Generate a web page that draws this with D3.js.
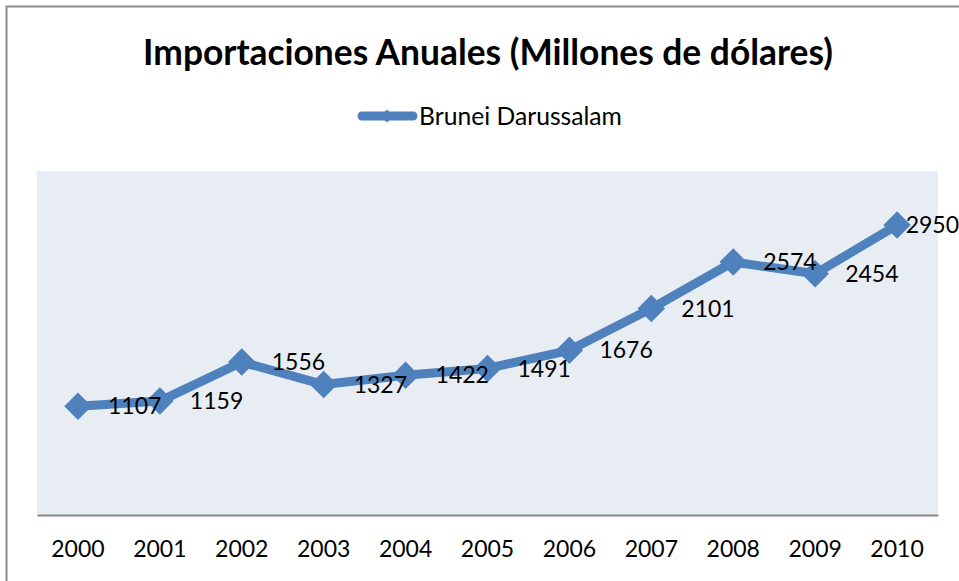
<!DOCTYPE html>
<html>
<head>
<meta charset="utf-8">
<script src="https://cdn.jsdelivr.net/npm/d3@7/dist/d3.min.js"></script>
<style>
  html, body { margin: 0; padding: 0; background: #fff; }
  svg { display: block; font-family: Lato, "Open Sans", sans-serif; }
</style>
</head>
<body>
<svg id="chart" width="959" height="581"></svg>
<script>
const years = ["2000","2001","2002","2003","2004","2005","2006","2007","2008","2009","2010"];
const imports = [1107, 1159, 1556, 1327, 1422, 1491, 1676, 2101, 2574, 2454, 2950];
const seriesName = "Brunei Darussalam";
const titleText = "Importaciones Anuales (Millones de dólares)";
const yDomain = [0, 3500];

const W = 959, H = 581;
const svg = d3.select("#chart");
const plot = { left: 37, right: 938, top: 171, bottom: 515 };
const color = "#4F81BD";

function fitSize(sel, base, target) {
  sel.attr("font-size", base);
  const w = sel.node().getComputedTextLength();
  sel.attr("font-size", base * target / w);
}

// chart border
svg.append("rect").attr("x", 6.5).attr("y", 6.5).attr("width", W + 20).attr("height", H + 20)
  .attr("fill", "#fff").attr("stroke", "#8c8c8c").attr("stroke-width", 2);

// plot background
svg.append("rect").attr("x", plot.left).attr("y", plot.top)
  .attr("width", plot.right - plot.left).attr("height", plot.bottom - plot.top)
  .attr("fill", "#E8EDF4");

const x = d3.scaleBand().domain(years).range([plot.left, plot.right]);
const y = d3.scaleLinear().domain(yDomain).range([plot.bottom, plot.top]);

// x axis
const xAxis = svg.append("g").attr("transform", `translate(0,${plot.bottom})`)
  .call(d3.axisBottom(x).tickSize(0).tickPadding(26));
xAxis.select(".domain").attr("stroke", "#868686").attr("stroke-width", 2);
xAxis.selectAll("text").attr("font-size", 23).attr("fill", "#000")
  .attr("font-family", "Lato, 'Open Sans', sans-serif");

// title
const title = svg.append("text").attr("x", 488).attr("y", 65)
  .attr("text-anchor", "middle").attr("font-weight", "bold")
  .attr("fill", "#000").text(titleText);
fitSize(title, 30, 690);

// legend
const lg = svg.append("g");
lg.append("line").attr("x1", 362).attr("x2", 413).attr("y1", 116).attr("y2", 116)
  .attr("stroke", color).attr("stroke-width", 9).attr("stroke-linecap", "round");
lg.append("path").attr("d", d3.symbol(d3.symbolDiamond2, 110)())
  .attr("transform", "translate(387,116)").attr("fill", color);
const lt = lg.append("text").attr("x", 419).attr("y", 116).attr("dy", "0.35em")
  .attr("fill", "#000").text(seriesName);
fitSize(lt, 22, 203);

// line
const cx = d => x(d) + x.bandwidth() / 2;
const line = d3.line().x((d, i) => cx(years[i])).y(d => y(d));
svg.append("path").datum(imports).attr("d", line)
  .attr("fill", "none").attr("stroke", color).attr("stroke-width", 9)
  .attr("stroke-linejoin", "round");

// markers
svg.selectAll(".mk").data(imports).join("path").attr("class", "mk")
  .attr("d", d3.symbol(d3.symbolDiamond2, 480)())
  .attr("transform", (d, i) => `translate(${cx(years[i])},${y(d)})`)
  .attr("fill", color);

// data labels
svg.selectAll(".lbl").data(imports).join("text").attr("class", "lbl")
  .attr("y", d => y(d)).attr("dy", "0.35em")
  .attr("font-size", 23).attr("fill", "#000").text(d => d)
  .each(function (d, i) {
    const t = d3.select(this);
    let lx = cx(years[i]) + 30;
    const w = this.getComputedTextLength();
    if (lx + w > W) lx = W - w;
    t.attr("x", lx);
  });
</script>
</body>
</html>
